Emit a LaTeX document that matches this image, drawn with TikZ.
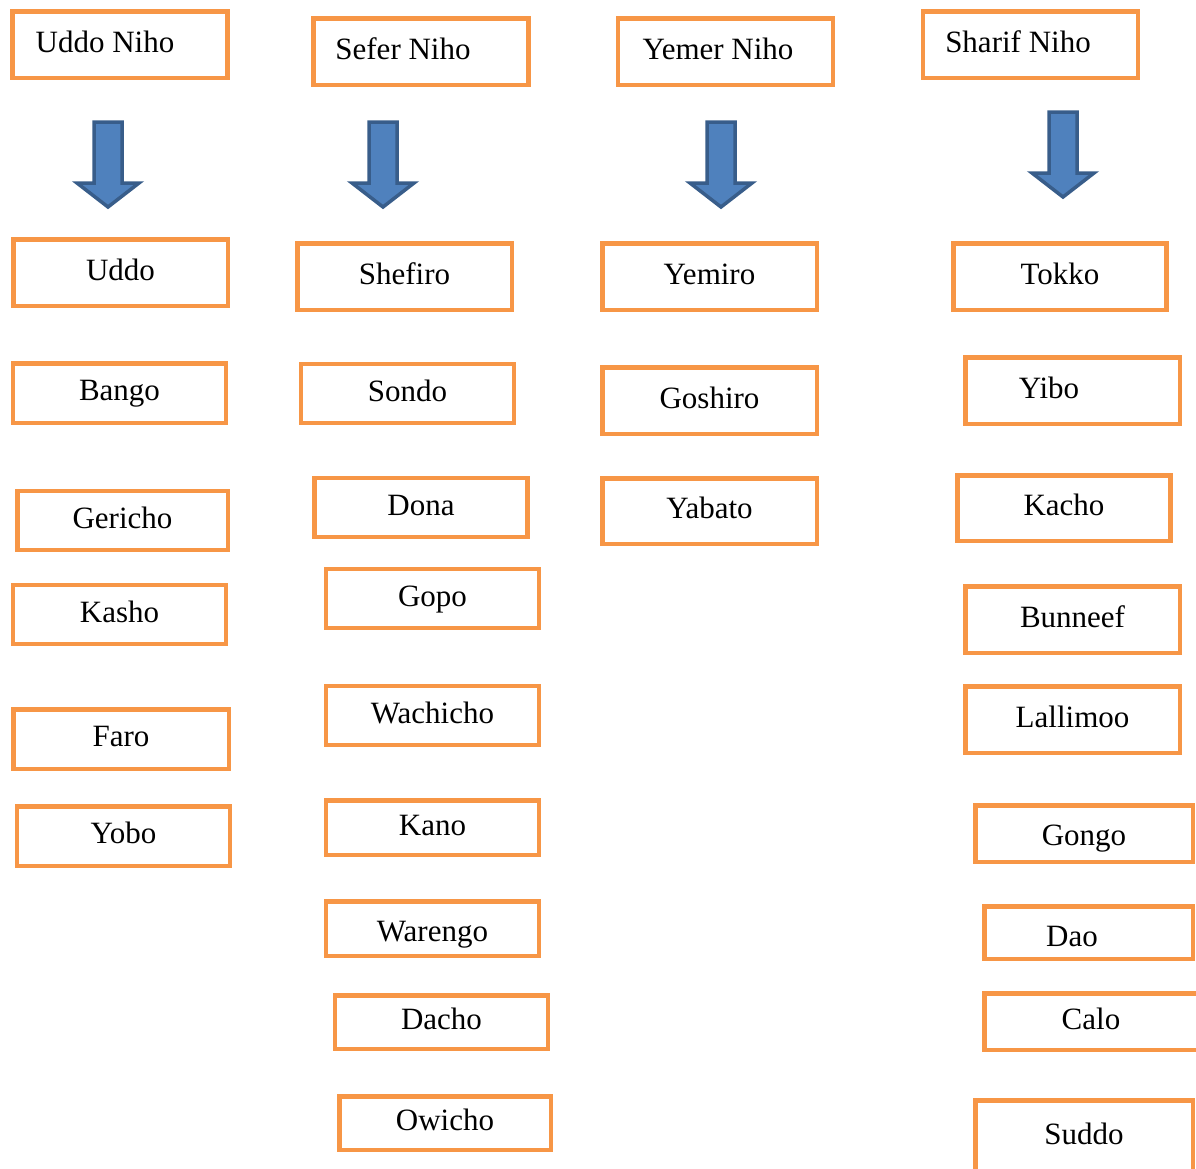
\documentclass[tikz,border=0pt]{standalone}
\usepackage{fontspec}
\setmainfont{Liberation Serif}
\usepackage{tikz}
\usetikzlibrary{positioning}
\definecolor{boxorange}{RGB}{247,150,70}
\definecolor{arrowblue}{RGB}{79,129,189}
\definecolor{arrowedge}{RGB}{56,93,138}
\tikzset{
  namebox/.style={rectangle,draw=boxorange,line width=4.5pt,fill=white,
    minimum width=213pt,minimum height=59pt,inner sep=2pt,
    text height=22pt,text depth=7pt,
    font=\fontsize{31}{36}\selectfont},
  headbox/.style={namebox,minimum width=215pt,minimum height=66.5pt},
  tallbox/.style={namebox,minimum height=66.5pt},
  blockarrow/.style={fill=arrowblue,draw=arrowedge,line width=3.5pt,line join=miter}
}

\begin{document}
\begin{tikzpicture}[x=1pt,y=-1pt]
  \fill[white] (0,0) rectangle (1196,1168);
  \useasboundingbox (0,0) rectangle (1196,1168);

  % headers
  \node[headbox] (uddoniho) at (120,44.5) {Uddo Niho\hspace*{30pt}};
  \node[headbox] (seferniho) at (421,51.5) {Sefer Niho\hspace*{36pt}};
  \node[headbox] (yemerniho) at (725.5,51.5) {Yemer Niho\hspace*{15pt}};
  \node[headbox] (sharifniho) at (1030.5,44.5) {Sharif Niho\hspace*{25pt}};

  \foreach \ax/\ay in {108/122, 383/122, 721/122, 1063/112}
    \draw[blockarrow] (\ax-14,\ay) -- (\ax+14,\ay) -- (\ax+14,\ay+61)
      -- (\ax+31,\ay+61) -- (\ax,\ay+85) -- (\ax-31,\ay+61) -- (\ax-14,\ay+61) -- cycle;

  % Uddo Niho
  \node[tallbox,minimum width=214.5pt] (uddo) at (120.5,272.5) {Uddo};
  \node[namebox,minimum height=59.5pt] (bango) at (119.5,393) {Bango};
  \node[namebox,minimum width=210.5pt] (gericho) at (122.5,520.5) {Gericho};
  \node[namebox] (kasho) at (119.5,614.5) {Kasho};
  \node[namebox,minimum width=215.5pt,minimum height=59.5pt] (faro) at (121,739) {Faro};
  \node[namebox,minimum height=59.5pt] (yobo) at (123.5,836) {Yobo};

  % Sefer Niho
  \node[tallbox,minimum width=214.5pt] (shefiro) at (404.5,276.5) {Shefiro};
  \node[namebox] (sondo) at (407.5,393.5) {Sondo};
  \node[namebox] (dona) at (421,507.5) {Dona};
  \node[namebox] (gopo) at (432.5,598.5) {Gopo};
  \node[namebox] (wachicho) at (432.5,715.5) {Wachicho};
  \node[namebox,minimum height=54.5pt] (kano) at (432.5,827.5) {Kano};
  \node[namebox,minimum height=54.5pt,text height=32pt] (warengo) at (432.5,928.5) {Warengo};
  \node[namebox,minimum height=53.5pt] (dacho) at (441.5,1022) {Dacho};
  \node[namebox,minimum width=211.5pt,minimum height=53.5pt] (owicho) at (445,1123) {Owicho};

  % Yemer Niho
  \node[tallbox,minimum width=214.5pt] (yemiro) at (709.5,276.5) {Yemiro};
  \node[tallbox,minimum width=214.5pt] (goshiro) at (709.5,400.5) {Goshiro};
  \node[tallbox,minimum width=214.5pt,minimum height=65.5pt] (yabato) at (709.5,511) {Yabato};

  % Sharif Niho
  \node[tallbox] (tokko) at (1060,276.5) {Tokko};
  \node[tallbox,minimum width=214.5pt] (yibo) at (1072.5,390.5) {Yibo\hspace*{47pt}};
  \node[tallbox,minimum height=65.5pt] (kacho) at (1064,508) {Kacho};
  \node[tallbox,minimum width=214.5pt] (bunneef) at (1072.5,619.5) {Bunneef};
  \node[tallbox,minimum width=214.5pt] (lallimoo) at (1072.5,719.5) {Lallimoo};
  \node[namebox,minimum width=217.5pt,minimum height=56.5pt,text height=30pt] (gongo) at (1084,833.5) {Gongo};
  \node[namebox,minimum width=208.5pt,minimum height=52.5pt,text height=34pt] (dao) at (1088.5,932.5) {Dao\hspace*{33pt}};
  \node[namebox,minimum width=213.5pt,minimum height=56.5pt] (calo) at (1091,1021.5) {Calo};
  \node[namebox,minimum width=217.5pt,minimum height=72.5pt] (suddo) at (1084,1136.5) {Suddo};
\end{tikzpicture}
\end{document}
